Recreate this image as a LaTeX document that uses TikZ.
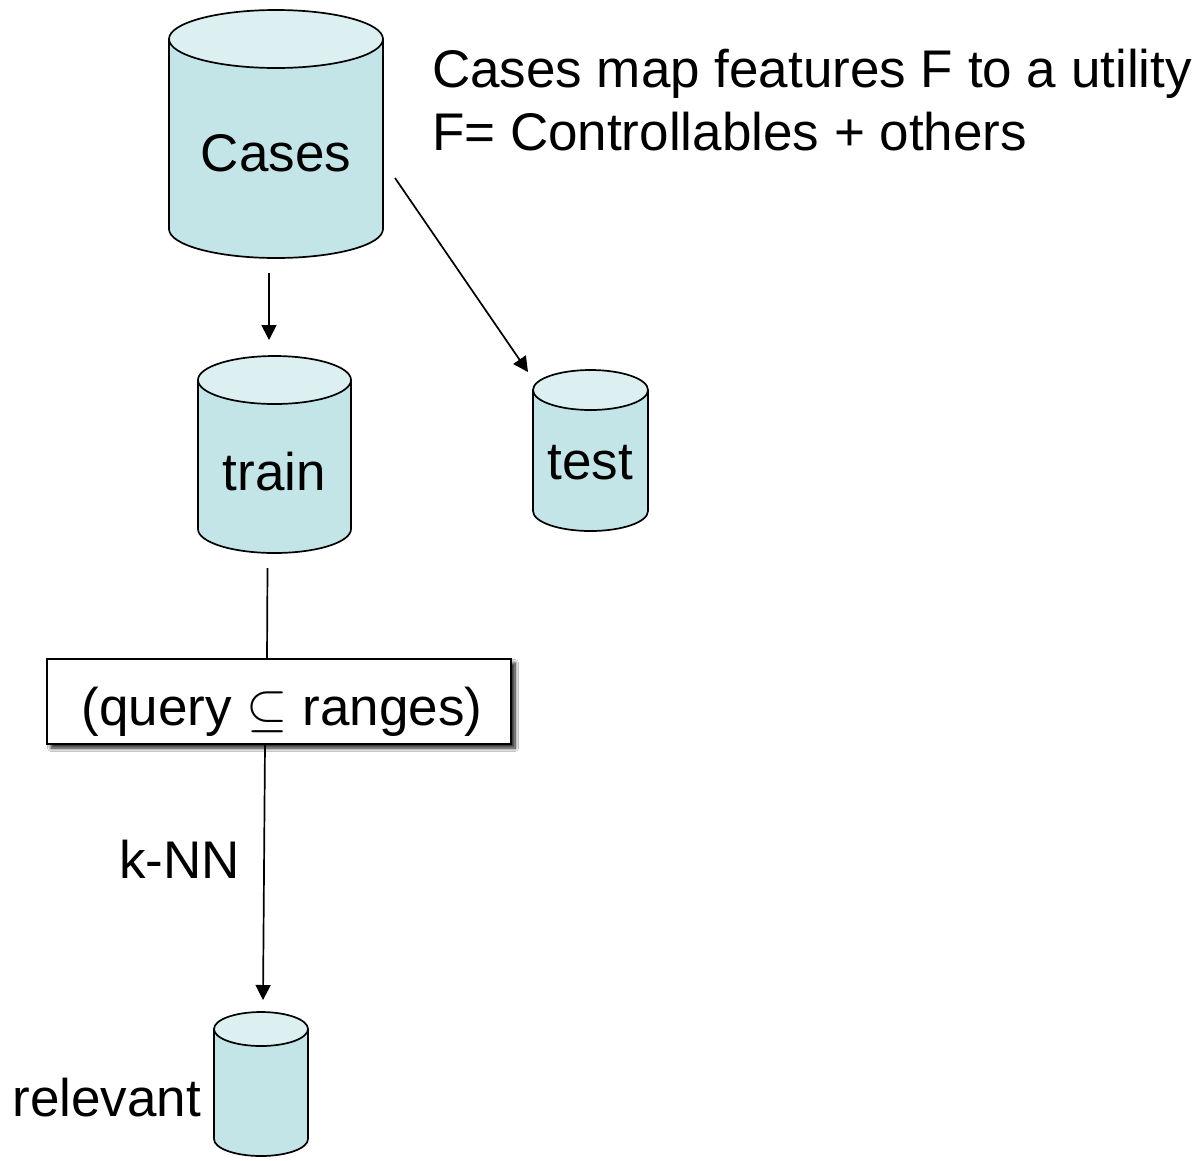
\RequirePackage{fix-cm}
\documentclass[tikz,border=0pt]{standalone}
\usepackage{fontspec}
\setmainfont{Liberation Sans}
\usetikzlibrary{arrows.meta,shadows.blur,calc}

\definecolor{drumbody}{RGB}{196,229,232}
\definecolor{drumlid}{RGB}{220,239,241}

% data store: #1 name, #2 centre x, #3 centre y, #4 width, #5 height, #6 lid radius
% the cylinder is drawn first, then a named node of the same size is laid over it
\newcommand\drum[6]{%
  \draw[drumline, fill=drumbody]
    ({#2-#4/2},{#3-#5/2+#6}) -- ({#2-#4/2},{#3+#5/2-#6})
    arc[start angle=180, end angle=0, x radius={#4/2}, y radius=#6]
    -- ({#2+#4/2},{#3-#5/2+#6}) -- cycle;
  \draw[drumline, fill=drumlid] (#2,{#3-#5/2+#6}) ellipse[x radius={#4/2}, y radius=#6];
  \node[drumnode, minimum width=#4pt, minimum height=#5pt] (#1) at (#2,#3) {};}

\tikzset{
  every node/.style={font=\fontsize{53}{63}\selectfont, inner sep=0pt, outer sep=0pt},
  drumnode/.style={draw=none, rectangle},
  drumline/.style={line width=1.7pt, line join=round},
  link/.style={line width=1.7pt},
  arrowlink/.style={link, -{Triangle[length=15pt,width=15pt]}},
  qbox/.style={draw, line width=1.7pt, fill=white, minimum width=464pt, minimum height=85pt,
    blur shadow={shadow xshift=4pt, shadow yshift=-4pt, shadow blur radius=3.5pt,
      shadow blur steps=8, shadow opacity=90}},
}

\begin{document}
\begin{tikzpicture}[x=1pt, y=-1pt]
  \fill[white] (0,0) rectangle (1201,1160);
  \useasboundingbox (0,0) rectangle (1201,1160);

  % data stores
  \drum{cases}{276}{134}{214}{248}{29}
  \node[yshift=-19pt] (casesT) at (cases.center) {Cases};
  \drum{train}{274.5}{454.5}{153}{197}{24}
  \node[yshift=-17pt] (trainT) at (train.center) {train};
  \drum{test}{590.5}{450.5}{115}{161}{20}
  \node[yshift=-12.5pt] (testT) at (test.center) {test};
  \drum{relevant}{261}{1084}{94}{144}{17}
  \node[anchor=east, yshift=-14pt] (rlabel) at ([xshift=-13pt]relevant.west) {relevant};

  % filter step
  \node[qbox] (query) at (279,701.5)
    {\hspace*{6pt}\raisebox{-10pt}[0.73em][0.21em]{(query $\subseteq$ ranges)}};

  % note
  \node[anchor=north west, align=left] (note) at (432,49)
    {Cases map features F to a utility\\F= Controllables + others};

  % connectors
  \draw[arrowlink] ([shift={(-7,15)}]cases.south) -- ([shift={(-5.5,-16)}]train.north);
  \draw[arrowlink] ([shift={(12,44)}]cases.east) -- ([shift={(-5,2)}]test.north west);
  \draw[link] ([shift={(-7,15)}]train.south) -- ([xshift=-12pt]query.north);
  \draw[arrowlink] ([xshift=-14pt]query.south) -- ([shift={(2,-12)}]relevant.north)
    node[pos=0.45, left=24pt] (knn) {k-NN};
\end{tikzpicture}
\end{document}
